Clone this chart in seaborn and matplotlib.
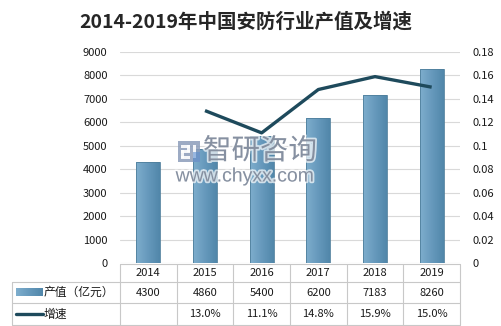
import numpy as np
import pandas as pd
import matplotlib
matplotlib.use("Agg")
import matplotlib.pyplot as plt
import matplotlib.transforms as mtransforms
import matplotlib.patheffects as pe
from matplotlib.colors import LinearSegmentedColormap
from matplotlib.patches import Rectangle
import seaborn as sns

# ---- data ----
years = [2014, 2015, 2016, 2017, 2018, 2019]
output_value = [4300, 4860, 5400, 6200, 7183, 8260]       # 产值（亿元）
growth_years = [2015, 2016, 2017, 2018, 2019]
growth_rate = [0.130, 0.111, 0.148, 0.159, 0.150]         # 增速
left_ticks = list(range(0, 9001, 1000))
right_ticks = [round(v, 2) for v in np.arange(0, 0.181, 0.02)]

title = "2014-2019年中国安防行业产值及增速"
row_labels = ["产值（亿元）", "增速"]

W, H = 501, 326
sns.set_theme(style="white")
plt.rcParams["font.family"] = ["Noto Sans CJK SC", "DejaVu Sans"]

BAR = "#6399BC"
LINE = "#1E4A5C"
GRID = "#D9D9D9"
BORDER = "#C8C8C8"
TXT = "#1a1a1a"
WM = "#7C8799"

fig = plt.figure(figsize=(W / 100, H / 100), dpi=100)
fig.patch.set_facecolor("white")
ax = fig.add_axes([120 / W, (H - 263) / H, 340 / W, 211 / H])
ax.set_facecolor("none")

df = pd.DataFrame({"year": years, "value": output_value})
sns.barplot(data=df, x="year", y="value", native_scale=True, width=0.42,
            color=BAR, saturation=1, ax=ax, zorder=3)

# soft horizontal gradient inside each bar
cmap = LinearSegmentedColormap.from_list("bar", ["#7EAECD", "#6699BC", "#5187AA"])
grad = np.linspace(0, 1, 64).reshape(1, -1)
for p in list(ax.patches):
    x0, y0 = p.get_x(), p.get_y()
    w, h = p.get_width(), p.get_height()
    im = ax.imshow(grad, cmap=cmap, aspect="auto", extent=[x0, x0 + w, y0, y0 + h],
                   zorder=3, interpolation="bicubic")
    im.set_clip_path(p)
    p.set_facecolor("none")
    p.set_edgecolor("#4F7F9C")
    p.set_linewidth(0.6)
    p.set_zorder(4)

ax.set_xlim(2013.5, 2019.5)
ax.set_ylim(0, 9000)
ax.set_yticks(left_ticks)
ax.set_yticklabels([str(v) for v in left_ticks], fontsize=8, color=TXT)
ax.tick_params(axis="y", length=0, pad=9)
ax.set_xticks([])
ax.set_xlabel("")
ax.set_ylabel("")
ax.grid(axis="y", color=GRID, linewidth=0.8, zorder=0)
ax.set_axisbelow(True)
for s in ax.spines.values():
    s.set_visible(False)

ax2 = ax.twinx()
sns.lineplot(x=growth_years, y=growth_rate, ax=ax2, color=LINE, linewidth=2.4,
             zorder=5, solid_capstyle="butt")
ax2.set_ylim(0, 0.18)
ax2.set_yticks(right_ticks)
ax2.set_yticklabels([f"{v:g}" for v in right_ticks], fontsize=8, color=TXT)
ax2.tick_params(axis="y", length=0, pad=9)
ax2.set_xlabel("")
ax2.set_ylabel("")
for s in ax2.spines.values():
    s.set_visible(False)
ax2.set_xlim(2013.5, 2019.5)

# title
fig.text(246 / W, 1 - 22 / H, title, ha="center", va="center", fontsize=14,
         fontweight="bold", color="#262626")

# watermark (drawn over the plot)
halo = [pe.withStroke(linewidth=2.5, foreground="white", alpha=0.7)]
wm_ax = fig.add_axes([0, 0, 1, 1], zorder=20)
wm_ax.set_xlim(0, W)
wm_ax.set_ylim(H, 0)
wm_ax.axis("off")
wm_ax.text(260, 151, "智研咨询", ha="center", va="center", fontsize=20.5,
           color=WM, alpha=0.9, path_effects=halo)
wm_ax.text(245, 177, "www.chyxx.com", ha="center", va="center", fontsize=14,
           color=WM, alpha=0.9, family="Liberation Sans", path_effects=halo)
wm_ax.add_patch(Rectangle((178, 141), 22, 21, facecolor="#8C9DBA", edgecolor="none",
                          alpha=0.85))
for (rx, ry, rw, rh) in [(181, 145, 9, 2.5), (187, 145, 3, 7), (181, 150, 9, 2.5),
                         (181, 150, 3, 8), (181, 156, 9, 2.5), (193, 145, 3, 13)]:
    wm_ax.add_patch(Rectangle((rx, ry), rw, rh, facecolor="white", edgecolor="none",
                              alpha=0.9))
wm_ax.add_patch(Rectangle((193, 152), 7, 10, facecolor="#5C8FD0", edgecolor="none",
                          alpha=0.6))

# ---- data table under the plot ----
px = mtransforms.Affine2D().scale(1 / W, -1 / H).translate(0, 1) + fig.transFigure
T = mtransforms.blended_transform_factory(ax.transData, px)

def vline(x, y0, y1, trans):
    fig.add_artist(plt.Line2D([x, x], [y0, y1], transform=trans, color=BORDER, lw=0.8))

y_top, y_r1, y_r2, y_bot = 263.5, 282, 303, 325
left_px = 12
x_right_px = ax.transData.transform((2019.5, 0))[0]

fig.add_artist(plt.Line2D([2013.5, 2019.5], [y_top, y_top], transform=T,
                          color=BORDER, lw=0.8))
for yy in (y_r1, y_r2, y_bot):
    fig.add_artist(plt.Line2D([left_px, x_right_px], [yy, yy], transform=px,
                              color=BORDER, lw=0.8))
vline(left_px, y_r1, y_bot, px)
for b in np.arange(2013.5, 2020, 1.0):
    vline(b, y_top, y_bot, T)

for yr in years:
    fig.text(yr, 273, str(yr), transform=T, ha="center", va="center", fontsize=8, color=TXT)
for yr, v in zip(years, output_value):
    fig.text(yr, 292.5, str(v), transform=T, ha="center", va="center", fontsize=8, color=TXT)
for yr, g in zip(growth_years, growth_rate):
    fig.text(yr, 314, f"{g * 100:.1f}%", transform=T, ha="center", va="center",
             fontsize=8, color=TXT)

# row keys
key = fig.add_axes([16 / W, 1 - 296 / H, 27 / W, 8 / H])
key.imshow(grad, cmap=cmap, aspect="auto", extent=[0, 1, 0, 1])
key.axis("off")
fig.add_artist(plt.Line2D([16, 43], [314, 314], transform=px, color=LINE, lw=2.4))
fig.text(44, 292.5, row_labels[0], transform=px, ha="left", va="center", fontsize=8.5,
         fontweight="medium", color=TXT)
fig.text(44, 314, row_labels[1], transform=px, ha="left", va="center", fontsize=8.5,
         fontweight="medium", color=TXT)

fig.savefig("out.png", dpi=100, facecolor="white")
